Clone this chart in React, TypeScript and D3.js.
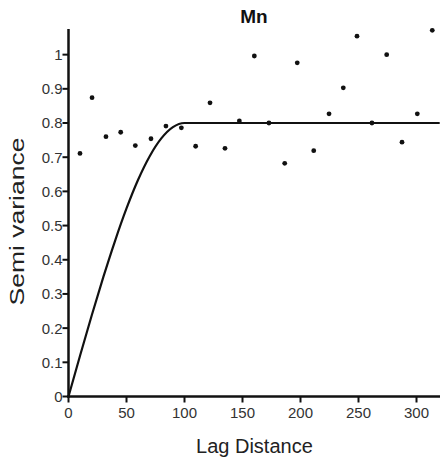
import React from "react";
import * as d3 from "d3";

const TITLE = "Mn";
const X_LABEL = "Lag Distance";
const Y_LABEL = "Semi variance";

const lagX = [9.9, 20.3, 32.3, 45, 57.6, 71.1, 84, 97.3, 109.6, 122, 134.9, 147.3, 160.2, 172.8, 186.4, 197.2, 211.4, 224.6, 236.9, 248.7, 261.6, 274.3, 287.5, 300.7, 313.6];
const semiVar = [0.711, 0.874, 0.76, 0.773, 0.734, 0.754, 0.791, 0.786, 0.732, 0.859, 0.726, 0.806, 0.996, 0.8, 0.682, 0.976, 0.719, 0.827, 0.903, 1.054, 0.8, 1.0, 0.744, 0.827, 1.071];

// fitted model curve
const modelX = [0, 10, 20, 30, 40, 50, 60, 70, 80, 90, 100, 320];
const modelY = [0, 0.12, 0.237, 0.349, 0.454, 0.55, 0.634, 0.703, 0.755, 0.788, 0.8, 0.8];

const xTicks = [0, 50, 100, 150, 200, 250, 300];
const yTicks = [0, 0.1, 0.2, 0.3, 0.4, 0.5, 0.6, 0.7, 0.8, 0.9, 1];

const W = 440;
const H = 462;
const FONT = "'Liberation Sans', Arial, Helvetica, sans-serif";

export default function App() {
  const x = d3.scaleLinear().domain([0, 320]).range([68.5, 439.7]);
  const y = d3.scaleLinear().domain([0, 1.075]).range([396.5, 29]);
  const line = d3
    .line<number>()
    .x((_, i) => x(modelX[i]))
    .y((d) => y(d))
    .curve(d3.curveMonotoneX);
  const x0 = x(0);
  const y0 = y(0);
  const fmt = (v: number) => (v === 0 ? "0" : v === 1 ? "1" : d3.format(".1f")(v));
  return (
    <svg
      width={W}
      height={H}
      style={{ position: "absolute", left: 0, top: 0, background: "#fff" }}
      fontFamily={FONT}
    >
      <rect width={W} height={H} fill="#fff" />
      <text x={254} y={23} textAnchor="middle" fontSize={19} fontWeight="bold" fill="#111">
        {TITLE}
      </text>
      {/* model curve */}
      <path d={line(modelY) || ""} fill="none" stroke="#111" strokeWidth={2.2} />
      {/* points */}
      {lagX.map((lx, i) => (
        <circle key={i} cx={x(lx)} cy={y(semiVar[i])} r={2.4} fill="#111" />
      ))}
      {/* y axis */}
      <line x1={x0} x2={x0} y1={y(1.075)} y2={y0 + 1.2} stroke="#111" strokeWidth={2.5} />
      {yTicks.map((t) => (
        <g key={t}>
          <line x1={x0 - 6} x2={x0} y1={y(t)} y2={y(t)} stroke="#111" strokeWidth={2} />
          <text x={x0 - 6} y={y(t)} dy="0.36em" textAnchor="end" fontSize={15} fill="#333">
            {fmt(t)}
          </text>
        </g>
      ))}
      {/* x axis */}
      <line x1={x0 - 1.2} x2={W} y1={y0} y2={y0} stroke="#111" strokeWidth={2.5} />
      {xTicks.map((t) => (
        <g key={t}>
          <line x1={x(t)} x2={x(t)} y1={y0} y2={y0 + 6} stroke="#111" strokeWidth={2} />
          <text x={x(t)} y={418} textAnchor="middle" fontSize={15} fill="#333">
            {t}
          </text>
        </g>
      ))}
      <text x={254.4} y={452.5} textAnchor="middle" fontSize={20} fill="#222">
        {X_LABEL}
      </text>
      <text
        transform={`translate(24,221.5) rotate(-90)`}
        textAnchor="middle"
        fontSize={21}
        fill="#222"
        textLength={168}
        lengthAdjust="spacingAndGlyphs"
      >
        {Y_LABEL}
      </text>
    </svg>
  );
}
